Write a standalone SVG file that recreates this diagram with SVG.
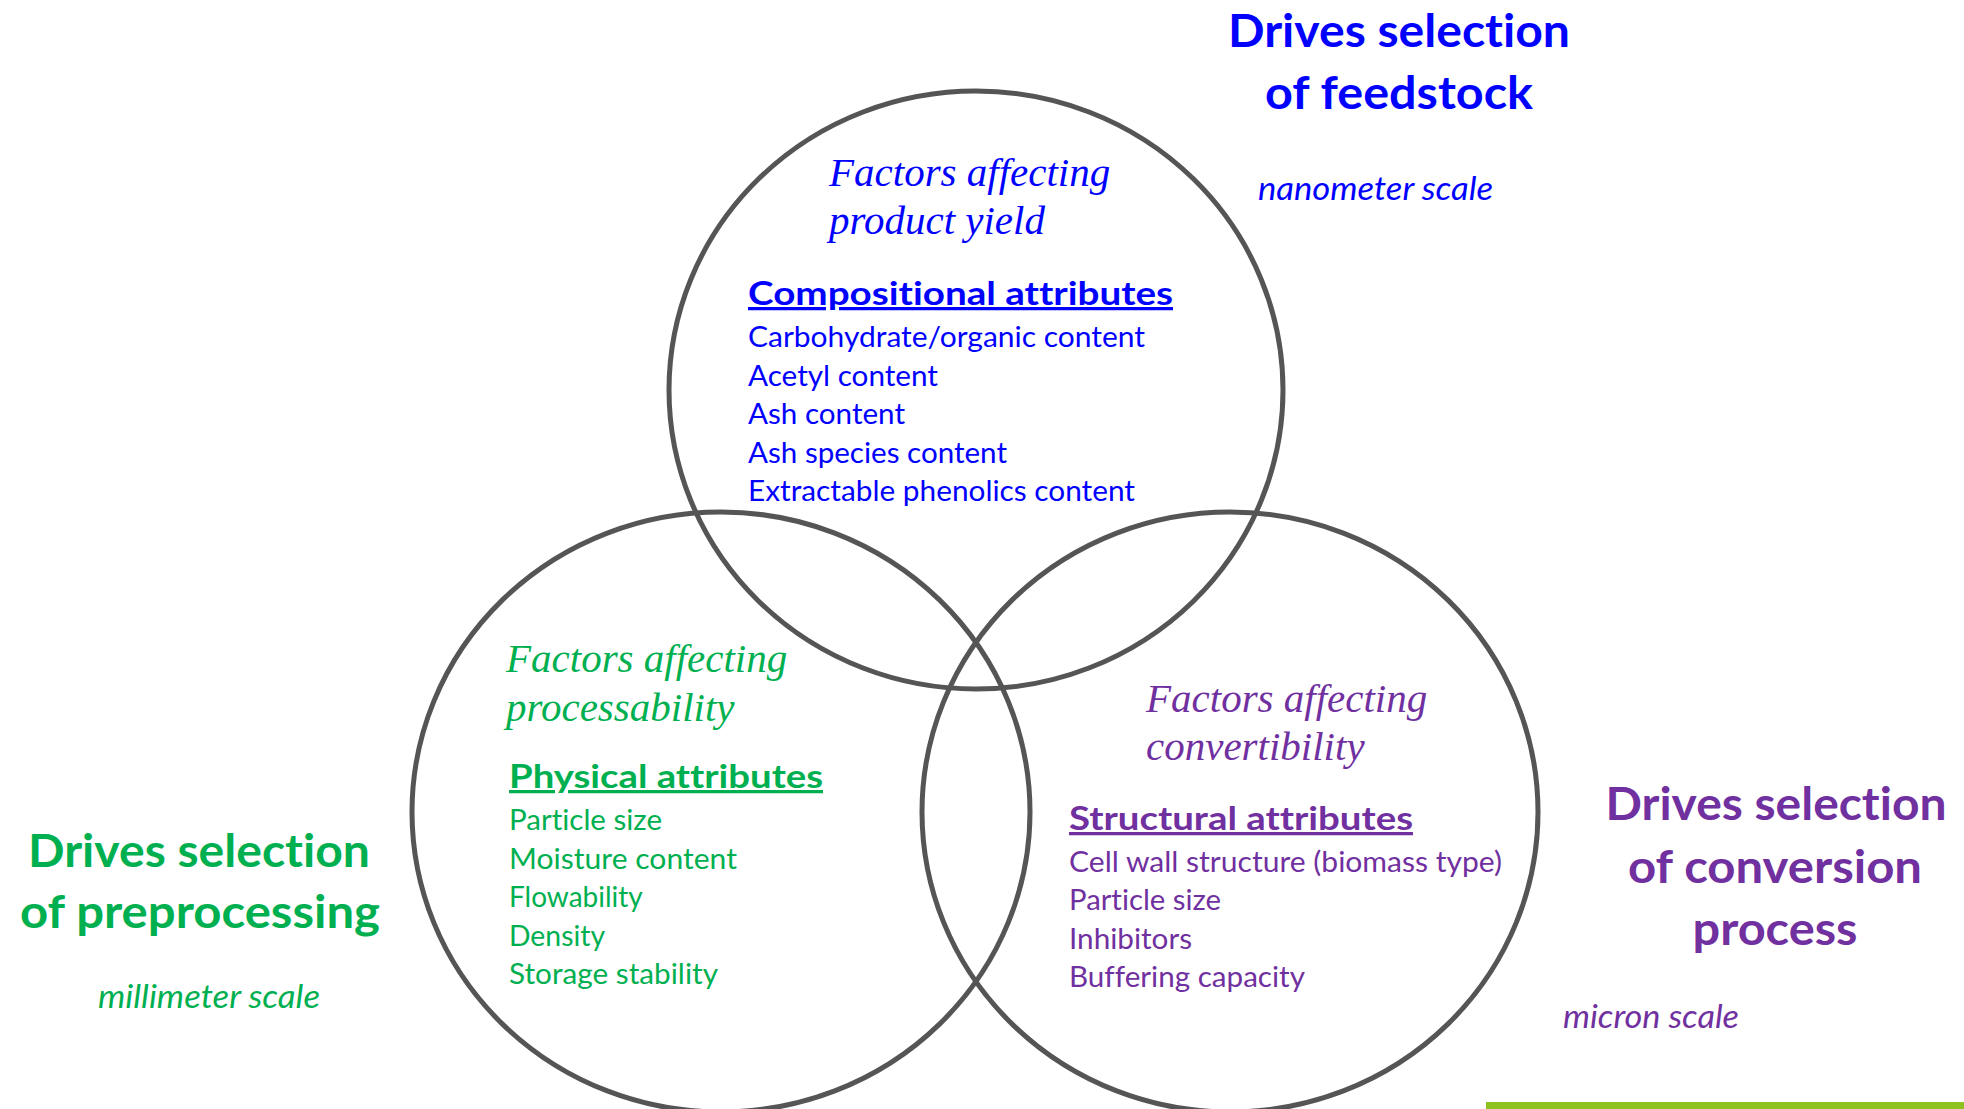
<svg xmlns="http://www.w3.org/2000/svg" width="1964" height="1109" viewBox="0 0 1964 1109">
<style>
.ring{fill:none;stroke:#555555;stroke-width:5}
.title{font-family:Lato,"Open Sans","Liberation Sans",sans-serif;font-weight:bold;font-size:46px;font-variant-ligatures:none}
.scale{font-family:Lato,"Open Sans","Liberation Sans",sans-serif;font-style:italic;font-size:32px;font-variant-ligatures:none}
.fac{font-family:"Liberation Serif","Times New Roman",serif;font-style:italic;font-size:41px}
.head{font-family:Lato,"Open Sans","Liberation Sans",sans-serif;font-weight:bold;font-size:32.5px;text-decoration:underline;font-variant-ligatures:none}
.item{font-family:Lato,"Open Sans","Liberation Sans",sans-serif;font-size:28px;font-variant-ligatures:none}
.blue{fill:#0000FF}
.green{fill:#00B050}
.purple{fill:#7030A0}
</style>
<rect x="0" y="0" width="1964" height="1109" fill="#ffffff"/>
<g id="connectors"></g>
<g id="circle-feedstock">
<ellipse class="ring" cx="976" cy="390" rx="307" ry="299"/>
<text class="fac blue" x="829" y="186">Factors affecting</text>
<text class="fac blue" x="829" y="234">product yield</text>
<text class="head blue" x="748" y="305" textLength="425" lengthAdjust="spacingAndGlyphs">Compositional attributes</text>
<text class="item blue" x="748" y="347" textLength="397" lengthAdjust="spacingAndGlyphs">Carbohydrate/organic content</text>
<text class="item blue" x="748" y="385.5" textLength="190" lengthAdjust="spacingAndGlyphs">Acetyl content</text>
<text class="item blue" x="748" y="424" textLength="157" lengthAdjust="spacingAndGlyphs">Ash content</text>
<text class="item blue" x="748" y="462.5" textLength="259" lengthAdjust="spacingAndGlyphs">Ash species content</text>
<text class="item blue" x="748" y="501" textLength="387" lengthAdjust="spacingAndGlyphs">Extractable phenolics content</text>
</g>
<g id="circle-preprocessing">
<ellipse class="ring" cx="721" cy="812" rx="309" ry="300"/>
<text class="fac green" x="506" y="672">Factors affecting</text>
<text class="fac green" x="506" y="721">processability</text>
<text class="head green" x="509" y="788" textLength="314" lengthAdjust="spacingAndGlyphs">Physical attributes</text>
<text class="item green" x="509" y="830" textLength="153" lengthAdjust="spacingAndGlyphs">Particle size</text>
<text class="item green" x="509" y="868.5" textLength="228" lengthAdjust="spacingAndGlyphs">Moisture content</text>
<text class="item green" x="509" y="907">Flowability</text>
<text class="item green" x="509" y="945.5" textLength="96" lengthAdjust="spacingAndGlyphs">Density</text>
<text class="item green" x="509" y="984" textLength="209" lengthAdjust="spacingAndGlyphs">Storage stability</text>
</g>
<g id="circle-conversion">
<ellipse class="ring" cx="1230" cy="812" rx="308" ry="300"/>
<text class="fac purple" x="1146" y="712">Factors affecting</text>
<text class="fac purple" x="1146" y="760">convertibility</text>
<text class="head purple" x="1069" y="830" textLength="344" lengthAdjust="spacingAndGlyphs">Structural attributes</text>
<text class="item purple" x="1069" y="872" textLength="433" lengthAdjust="spacingAndGlyphs">Cell wall structure (biomass type)</text>
<text class="item purple" x="1069" y="910" textLength="152" lengthAdjust="spacingAndGlyphs">Particle size</text>
<text class="item purple" x="1069" y="948.5" textLength="123" lengthAdjust="spacingAndGlyphs">Inhibitors</text>
<text class="item purple" x="1069" y="987" textLength="236" lengthAdjust="spacingAndGlyphs">Buffering capacity</text>
</g>
<g id="label-feedstock">
<text class="title blue" x="1399" y="47" text-anchor="middle" textLength="342" lengthAdjust="spacingAndGlyphs">Drives selection</text>
<text class="title blue" x="1399" y="109" text-anchor="middle" textLength="268" lengthAdjust="spacingAndGlyphs">of feedstock</text>
<text class="scale blue" x="1258" y="200" textLength="235" lengthAdjust="spacingAndGlyphs">nanometer scale</text>
</g>
<g id="label-preprocessing">
<text class="title green" x="199" y="867" text-anchor="middle" textLength="342" lengthAdjust="spacingAndGlyphs">Drives selection</text>
<text class="title green" x="200" y="928" text-anchor="middle" textLength="360" lengthAdjust="spacingAndGlyphs">of preprocessing</text>
<text class="scale green" x="98" y="1008" textLength="222" lengthAdjust="spacingAndGlyphs">millimeter scale</text>
</g>
<g id="label-conversion">
<text class="title purple" x="1776" y="820" text-anchor="middle" textLength="341" lengthAdjust="spacingAndGlyphs">Drives selection</text>
<text class="title purple" x="1775" y="883" text-anchor="middle" textLength="294" lengthAdjust="spacingAndGlyphs">of conversion</text>
<text class="title purple" x="1775" y="945" text-anchor="middle" textLength="165" lengthAdjust="spacingAndGlyphs">process</text>
<text class="scale purple" x="1563" y="1028" textLength="176" lengthAdjust="spacingAndGlyphs">micron scale</text>
</g>
<rect x="1486" y="1102" width="478" height="7" fill="#8DC21F"/>
</svg>
